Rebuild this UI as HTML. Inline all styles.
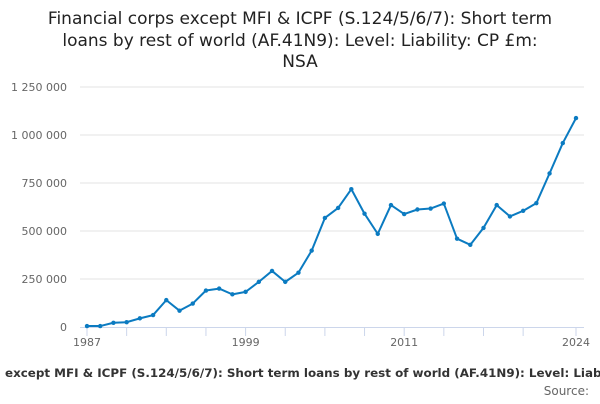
<!DOCTYPE html>
<html><head><meta charset="utf-8"><style>
body{margin:0;background:#fff;width:600px;height:400px;overflow:hidden;font-family:"DejaVu Sans","Liberation Sans",sans-serif}
</style></head><body>
<svg id="chart" width="600" height="400" xmlns="http://www.w3.org/2000/svg" font-family="DejaVu Sans, Liberation Sans, sans-serif">
<g fill="#222" font-size="17" text-anchor="middle">
<text x="300" y="24">Financial corps except MFI &amp; ICPF (S.124/5/6/7): Short term</text>
<text x="300" y="46">loans by rest of world (AF.41N9): Level: Liability: CP £m:</text>
<text x="300" y="67">NSA</text>
</g>
<g id="grid"></g>
<g id="yticks"></g>
<g id="xaxis"></g>
<g id="series"></g>
<text x="5" y="377" font-size="11.9" font-weight="bold" fill="#333">except MFI &amp; ICPF (S.124/5/6/7): Short term loans by rest of world (AF.41N9): Level: Liability: CP £m: NSA</text>
<text x="589" y="395" font-size="12" fill="#666" text-anchor="end">Source:</text>
</svg>
<script>
const years = [1987,1988,1989,1990,1991,1992,1993,1994,1995,1996,1997,1998,1999,2000,2001,2002,2003,2004,2005,2006,2007,2008,2009,2010,2011,2012,2013,2014,2015,2016,2017,2018,2019,2020,2021,2022,2023,2024];
const values = [5000,5000,22000,25000,45000,62000,140000,85000,122000,190000,200000,170000,183000,235000,292000,235000,283000,398000,568000,620000,718000,590000,485000,635000,588000,612000,617000,643000,460000,428000,516000,635000,576000,605000,645000,800000,958000,1088000];
const yTicks = [0,250000,500000,750000,1000000,1250000];
const yTickLabels = ["0","250 000","500 000","750 000","1 000 000","1 250 000"];
const xLabelYears = [1987,1999,2011,2024];
const NS="http://www.w3.org/2000/svg";
const x = y => 87 + (y-1987)*(576-87)/(2024-1987);
const yv = v => 327 - v*192/1000000;
function mk(tag, attrs, parent){const e=document.createElementNS(NS,tag);for(const k in attrs)e.setAttribute(k,attrs[k]);parent.appendChild(e);return e;}
const grid=document.getElementById('grid'), yt=document.getElementById('yticks'), xa=document.getElementById('xaxis'), s=document.getElementById('series');
yTicks.forEach((t,i)=>{
  if(t>0){const l=mk('line',{x1:80,x2:584,y1:yv(t),y2:yv(t),stroke:'#e3e3e3','stroke-width':1},grid);
  
  }
  const tx=mk('text',{x:67,y:yv(t)+4,'font-size':11,fill:'#666','text-anchor':'end'},yt);
  tx.textContent=yTickLabels[i];
  
  
});
const ax=mk('line',{x1:80,x2:584,y1:327.5,y2:327.5,stroke:'#ccd6eb','stroke-width':1},xa);


years.forEach(yr=>{
  if(((yr-1987)%3===0 && yr<2023)||yr===2024){const tk=mk('line',{x1:x(yr),x2:x(yr),y1:327,y2:336,stroke:'#ccd6eb','stroke-width':1},xa);
  
  }
});
xLabelYears.forEach(yr=>{
  const tx=mk('text',{x:x(yr),y:346,'font-size':11,fill:'#666','text-anchor':'middle'},xa);
  tx.textContent=yr;
  
  
});
const pl=mk('polyline',{points:years.map((yr,i)=>x(yr)+','+yv(values[i])).join(' '),fill:'none',stroke:'#0b7bc1','stroke-width':2,'stroke-linejoin':'round'},s);


years.forEach((yr,i)=>{
  const c=mk('circle',{cx:x(yr),cy:yv(values[i]),r:2.2,fill:'#0b7bc1'},s);
  
  
});
</script>
</body></html>
